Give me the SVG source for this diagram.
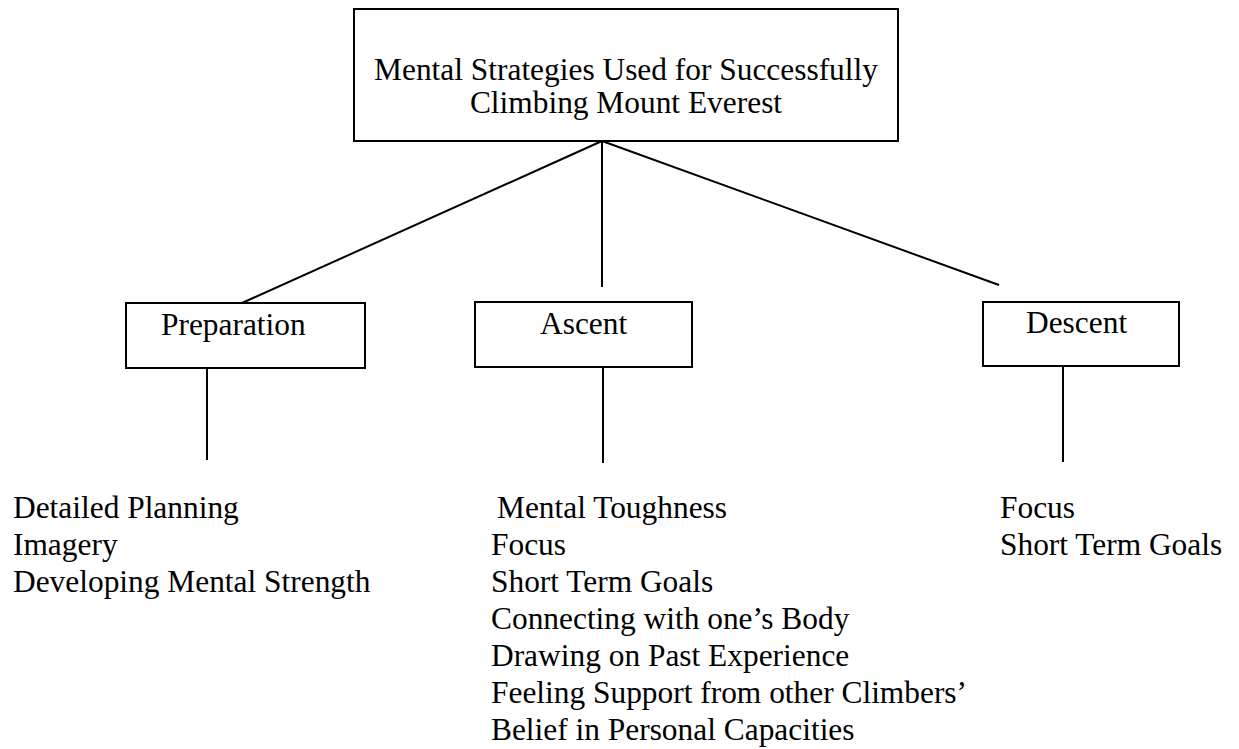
<svg xmlns="http://www.w3.org/2000/svg" width="1239" height="749" viewBox="0 0 1239 749">
<style>
  .box { fill: #ffffff; stroke: #000000; stroke-width: 2; }
  .edge { stroke: #000000; stroke-width: 2; fill: none; }
  text { font-family: "Liberation Serif", "Times New Roman", serif; font-size: 31.4px; fill: #000000; }
</style>
<rect x="0" y="0" width="1239" height="749" fill="#ffffff"/>
<g id="connectors">
  <line class="edge" x1="602" y1="141" x2="242" y2="303"/>
  <line class="edge" x1="602" y1="141" x2="602" y2="287"/>
  <line class="edge" x1="602" y1="141" x2="999" y2="285"/>
  <line class="edge" x1="207" y1="368" x2="207" y2="460"/>
  <line class="edge" x1="603" y1="367" x2="603" y2="463"/>
  <line class="edge" x1="1063" y1="366" x2="1063" y2="462"/>
</g>
<g id="root">
  <rect class="box" x="354" y="9" width="544" height="132"/>
  <text x="626" y="80" text-anchor="middle">Mental Strategies Used for Successfully</text>
  <text x="626" y="113" text-anchor="middle">Climbing Mount Everest</text>
</g>
<g id="preparation">
  <rect class="box" x="126" y="303" width="239" height="65"/>
  <text x="161" y="335">Preparation</text>
</g>
<g id="ascent">
  <rect class="box" x="475" y="302" width="217" height="65"/>
  <text x="540" y="334">Ascent</text>
</g>
<g id="descent">
  <rect class="box" x="983" y="302" width="196" height="64"/>
  <text x="1026" y="333">Descent</text>
</g>
<g id="preparation-items">
  <text x="13" y="518">Detailed Planning</text>
  <text x="13" y="555">Imagery</text>
  <text x="13" y="592">Developing Mental Strength</text>
</g>
<g id="ascent-items">
  <text x="497" y="518">Mental Toughness</text>
  <text x="491" y="555">Focus</text>
  <text x="491" y="592">Short Term Goals</text>
  <text x="491" y="629">Connecting with one’s Body</text>
  <text x="491" y="666">Drawing on Past Experience</text>
  <text x="491" y="703">Feeling Support from other Climbers’</text>
  <text x="491" y="740">Belief in Personal Capacities</text>
</g>
<g id="descent-items">
  <text x="1000" y="518">Focus</text>
  <text x="1000" y="555">Short Term Goals</text>
</g>
</svg>
